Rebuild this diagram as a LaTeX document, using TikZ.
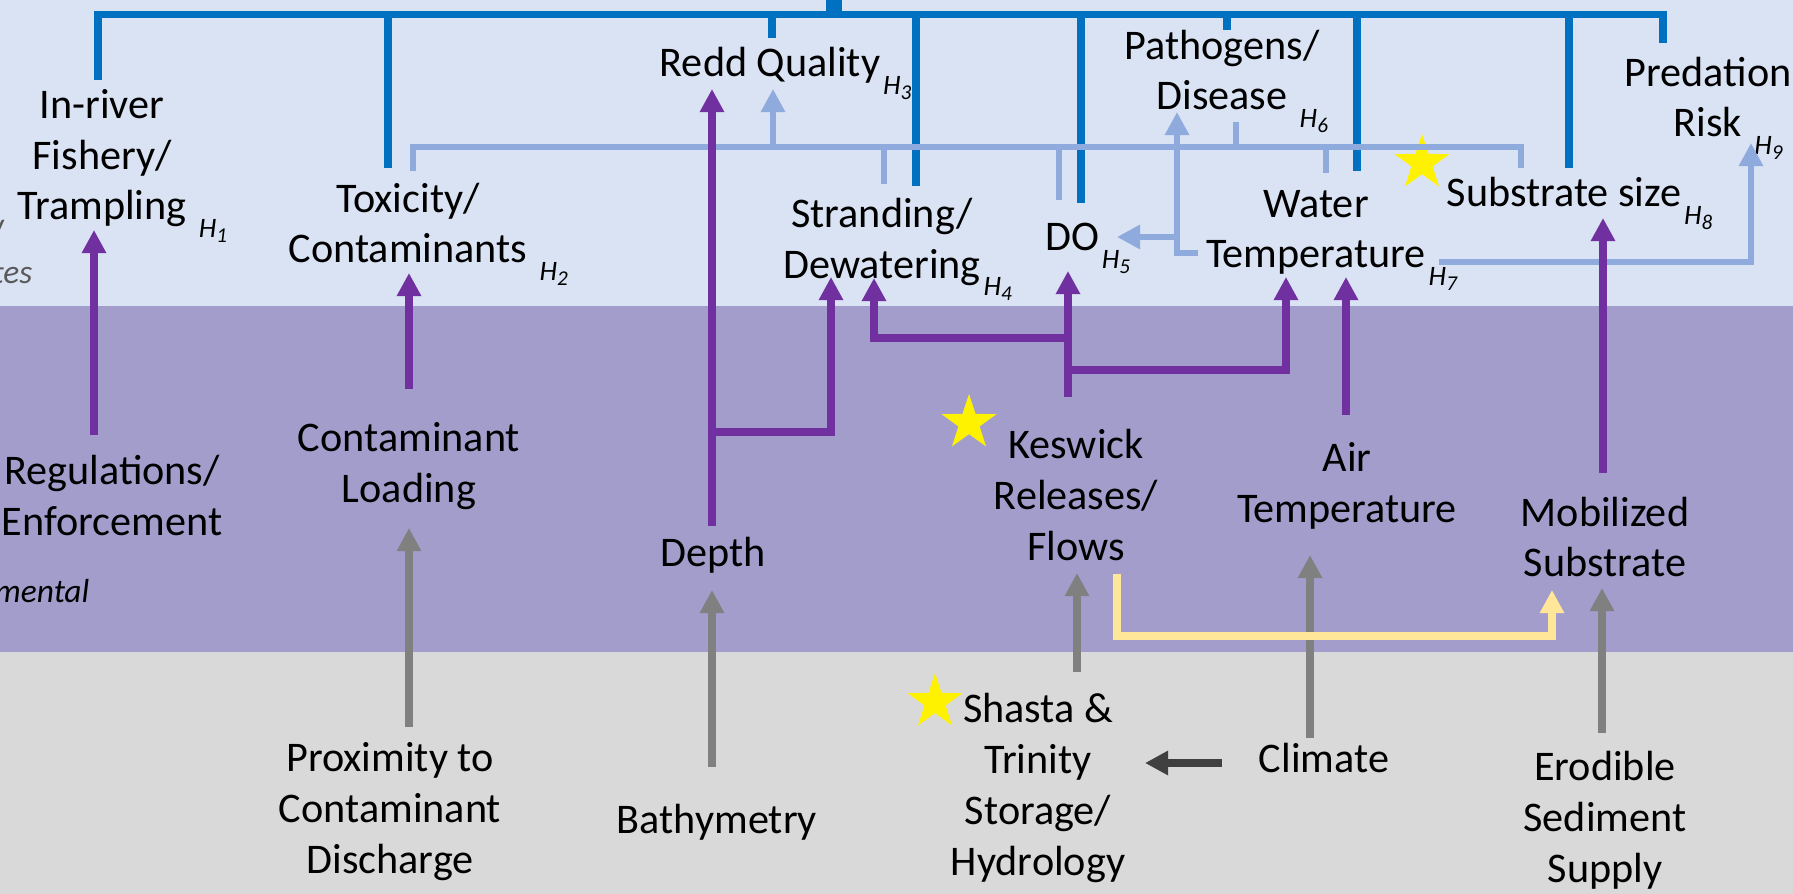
\documentclass[tikz,border=0pt]{standalone}
\usepackage{fontspec}
\setmainfont{Carlito}
\usetikzlibrary{arrows.meta,shapes.geometric}
\definecolor{bandA}{HTML}{DAE3F3}
\definecolor{bandB}{HTML}{A39DCC}
\definecolor{bandC}{HTML}{D9D9D9}
\definecolor{dblue}{HTML}{0070C0}
\definecolor{lblue}{HTML}{8FAADC}
\definecolor{purp}{HTML}{7030A0}
\definecolor{greyA}{HTML}{808080}
\definecolor{greyB}{HTML}{404040}
\definecolor{yell}{HTML}{FFE699}
\definecolor{fragcol}{HTML}{595959}
\newcommand\Hsub[1]{\raisebox{-5pt}{\fontsize{8}{9}\selectfont\itshape H\raisebox{-1.5pt}{\fontsize{6}{7}\selectfont #1}}}
\newcommand\hsp[1]{\rlap{\hspace{3.5pt}\Hsub{#1}}}
\newcommand\hsn[1]{\rlap{\hspace{0.8pt}\Hsub{#1}}}
\begin{document}
\begin{tikzpicture}[x=0.01cm,y=-0.01cm,
  txt/.style={font=\fontsize{12}{14.5}\selectfont, align=center, inner sep=0pt, anchor=base},
  side/.style={font=\fontsize{9.5}{11}\selectfont\itshape, inner sep=0pt, anchor=base east},
  headA/.style={-{Triangle[width=6.6pt,length=6.6pt]}},
  dbline/.style={draw=dblue, line width=2.1pt},
  lbline/.style={draw=lblue, line width=1.8pt},
  lbarrow/.style={lbline, headA},
  pline/.style={draw=purp, line width=2pt},
  parrow/.style={pline, headA},
  garrow/.style={draw=greyA, line width=2pt, headA},
  yarrow/.style={draw=yell, line width=2pt, headA},
  darrow/.style={draw=greyB, line width=2.2pt, headA},
  ystar/.style={star, star points=5, star point ratio=2.6, fill=yellow, draw=none, inner sep=0pt, minimum size=0.58cm}
]
\useasboundingbox (0,0) rectangle (1793,894);
\clip (0,0) rectangle (1793,894);
% bands
\fill[bandA] (0,0) rectangle (1793,306);
\fill[bandB] (0,306) rectangle (1793,652);
\fill[bandC] (0,652) rectangle (1793,894);

% ---------- text nodes (anchor = baseline of the last line): top band
\node[txt] (inriver) at (102,220) {In-river\\Fishery/\\Trampling\hsp{1}};
\node[txt] (toxic) at (408,263) {Toxicity/\\Contaminants\hsp{2}};
\node[txt] (redd) at (770,77) {Redd Quality\hsn{3}};
\node[txt] (strand) at (882,278) {Stranding/\\Dewatering\hsn{4}};
\node[txt] (dovar) at (1072,251) {DO\hsn{5}};
\node[txt] (patho) at (1222,110) {Pathogens/\\Disease\hsp{6}};
\node[txt] (wtemp) at (1316,268) {Water\\Temperature\hsn{7}};
\node[txt] (subsz) at (1564,207) {Substrate size\hsn{8}};
\node[txt] (pred) at (1708,137) {Predation\\Risk\hsp{9}};
% purple band
\node[txt] (regs) at (112,535) {Regulations/\\Enforcement};
\node[txt] (contload) at (409,502) {Contaminant\\Loading};
\node[txt] (depth) at (713,567) {Depth};
\node[txt] (keswick) at (1076,560) {Keswick\\Releases/\\Flows};
\node[txt] (airt) at (1347,522) {Air\\Temperature};
\node[txt] (mobsub) at (1605,577) {Mobilized\\Substrate};
% grey band
\node[txt] (prox) at (390,873) {Proximity to\\Contaminant\\Discharge};
\node[txt] (bathy) at (717,833) {Bathymetry};
\node[txt] (shasta) at (1038,875) {Shasta \&\\Trinity\\Storage/\\Hydrology};
\node[txt] (climate) at (1324,772) {Climate};
\node[txt] (erod) at (1605,882) {Erodible\\Sediment\\Supply};
% cut-off side labels
\node[side, text=fragcol] (fragA) at (33,284) {tes};
\node[side] (fragB) at (90,602) {mental};
\node[txt, anchor=base east, text=fragcol] (fragC) at (6,250) {/};
% stars
\node[ystar] (star1) at (1422,163) {};
\node[ystar] (star2) at (969,423) {};
\node[ystar] (star3) at (935,702) {};

% ---------- named connector end points
\coordinate (busL) at (98,14.5);
\coordinate (busR) at (1663,14.5);
\coordinate (busTop) at (834,0);
\coordinate (busMid) at (834,14.5);

% ---------- dark blue bus
\draw[dbline] (98,80) -- (busL) -- (busR) -- (1663,43);
\draw[draw=dblue, line width=4.6pt] (busTop) -- (busMid);
\foreach \x/\y in {388/168, 772/38, 916/186, 1081/203, 1227/30, 1357/171, 1569/168}
  \draw[dbline] (\x,14.5) -- (\x,\y);

% ---------- light blue bus
\draw[lbline] (413,171) -- (413,147) -- (1521,147) -- (1521,168);
\draw[lbarrow] (773,147) -- (773,89);
\foreach \x/\y in {884/184, 1059/200, 1236/122, 1326/173}
  \draw[lbline] (\x,147) -- (\x,\y);
% water temperature -> pathogens, DO
\coordinate (wtL) at (1198,253);
\coordinate (wtJ) at (1177,253);
\coordinate (pathoIn) at (1177,112);
\coordinate (doIn) at (1117,237);
\draw[lbarrow] (wtL) -- (wtJ) -- (pathoIn);
\draw[lbarrow] (1177,237) -- (doIn);
% water temperature -> predation
\coordinate (wtR) at (1439,262);
\coordinate (predIn) at (1751,143);
\draw[lbarrow] (wtR) -- (1751,262) -- (predIn);

% ---------- purple arrows
\draw[parrow] (94,435) -- (94,230);
\draw[parrow] (409,389) -- (409,273);
\draw[parrow] (712,526) -- (712,89);
\draw[parrow] (712,432) -- (831,432) -- (831,277);
\draw[parrow] (1068,397) -- (1068,271);
\draw[parrow] (1068,338) -- (874,338) -- (874,278);
\draw[parrow] (1068,370) -- (1286,370) -- (1286,277);
\draw[parrow] (1346,415) -- (1346,277);
\draw[parrow] (1603,473) -- (1603,218);

% ---------- grey arrows
\draw[garrow] (409,727) -- (409,528);
\draw[garrow] (712,767) -- (712,590);
\draw[garrow] (1077,672) -- (1077,573);
\draw[garrow] (1310,738) -- (1310,555);
\draw[garrow] (1602,733) -- (1602,588);
\draw[darrow] (1222,763) -- (1145,763);

% ---------- yellow
\draw[yarrow] (1117,574) -- (1117,636) -- (1552,636) -- (1552,590);
\end{tikzpicture}
\end{document}
